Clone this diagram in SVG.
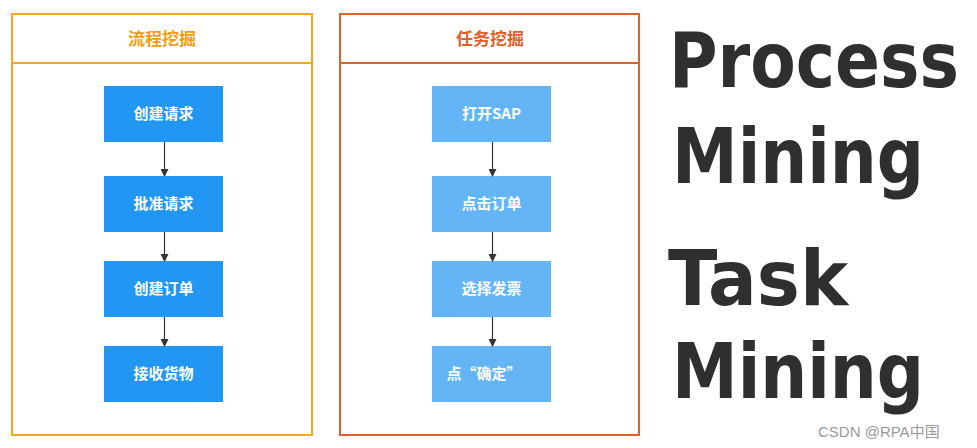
<svg xmlns="http://www.w3.org/2000/svg" width="977" height="448" viewBox="0 0 977 448">
<style>
.box{fill:#2196f3}.box2{fill:#64b5f6}
.lbl{font-family:"Noto Sans CJK SC","Liberation Sans",sans-serif;font-weight:bold;font-size:15px;fill:#fff;text-anchor:middle}
.ttl{font-family:"Noto Sans CJK SC","Liberation Sans",sans-serif;font-weight:bold;font-size:17px;text-anchor:middle}
.big{font-family:"DejaVu Sans",sans-serif;font-weight:bold;font-size:76px;fill:#2f302e}
.con{stroke:#333;stroke-width:1.2;fill:none;marker-end:url(#ah)}
</style>
<defs><marker id="ah" markerWidth="8" markerHeight="8" refX="7" refY="4" orient="auto" markerUnits="userSpaceOnUse"><path d="M0,0L8,4L0,8z" fill="#333"/></marker></defs>
<rect width="977" height="448" fill="#fff"/>
<g id="panel1"><rect x="12" y="14" width="300" height="421" fill="none" stroke="#f5a623" stroke-width="2"/><line x1="12" y1="63" x2="312" y2="63" stroke="#f5a623" stroke-width="2"/><text class="ttl" x="162" y="45" fill="#f39c12">流程挖掘</text></g>
<g id="panel2"><rect x="340" y="14" width="299" height="421" fill="none" stroke="#e0602a" stroke-width="2"/><line x1="340" y1="63" x2="639" y2="63" stroke="#e0602a" stroke-width="2"/><text class="ttl" x="490" y="45" fill="#e0602a">任务挖掘</text></g>
<g id="n1"><rect class="box" x="104" y="86" width="119" height="56"/><text class="lbl" x="163.5" y="119">创建请求</text></g>
<g id="n2"><rect class="box" x="104" y="176" width="119" height="56"/><text class="lbl" x="163.5" y="209">批准请求</text></g>
<g id="n3"><rect class="box" x="104" y="261" width="119" height="56"/><text class="lbl" x="163.5" y="294">创建订单</text></g>
<g id="n4"><rect class="box" x="104" y="346" width="119" height="56"/><text class="lbl" x="163.5" y="379">接收货物</text></g>
<g id="m1"><rect class="box2" x="432" y="86" width="119" height="56"/><text class="lbl" x="491.5" y="119">打开SAP</text></g>
<g id="m2"><rect class="box2" x="432" y="176" width="119" height="56"/><text class="lbl" x="491.5" y="209">点击订单</text></g>
<g id="m3"><rect class="box2" x="432" y="261" width="119" height="56"/><text class="lbl" x="491.5" y="294">选择发票</text></g>
<g id="m4"><rect class="box2" x="432" y="346" width="119" height="56"/><text class="lbl" x="484" y="379">点“确定”</text></g>
<g id="connectors">
<line class="con" x1="164.5" y1="142" x2="164.5" y2="176"/>
<line class="con" x1="164.5" y1="232" x2="164.5" y2="261"/>
<line class="con" x1="164.5" y1="317" x2="164.5" y2="346"/>
<line class="con" x1="492.5" y1="142" x2="492.5" y2="176"/>
<line class="con" x1="492.5" y1="232" x2="492.5" y2="261"/>
<line class="con" x1="492.5" y1="317" x2="492.5" y2="346"/>
</g>
<g id="text">
<text class="big" x="669" y="87" textLength="290" lengthAdjust="spacingAndGlyphs">Process</text>
<text class="big" x="672" y="183" textLength="252" lengthAdjust="spacingAndGlyphs">Mining</text>
<text class="big" x="668" y="305" textLength="180" lengthAdjust="spacingAndGlyphs">Task</text>
<text class="big" x="672" y="398" textLength="252" lengthAdjust="spacingAndGlyphs">Mining</text>
<text x="818" y="437" font-family="Liberation Sans,'Noto Sans CJK SC',sans-serif" font-size="15" fill="#999">CSDN @RPA中国</text>
</g>
</svg>
